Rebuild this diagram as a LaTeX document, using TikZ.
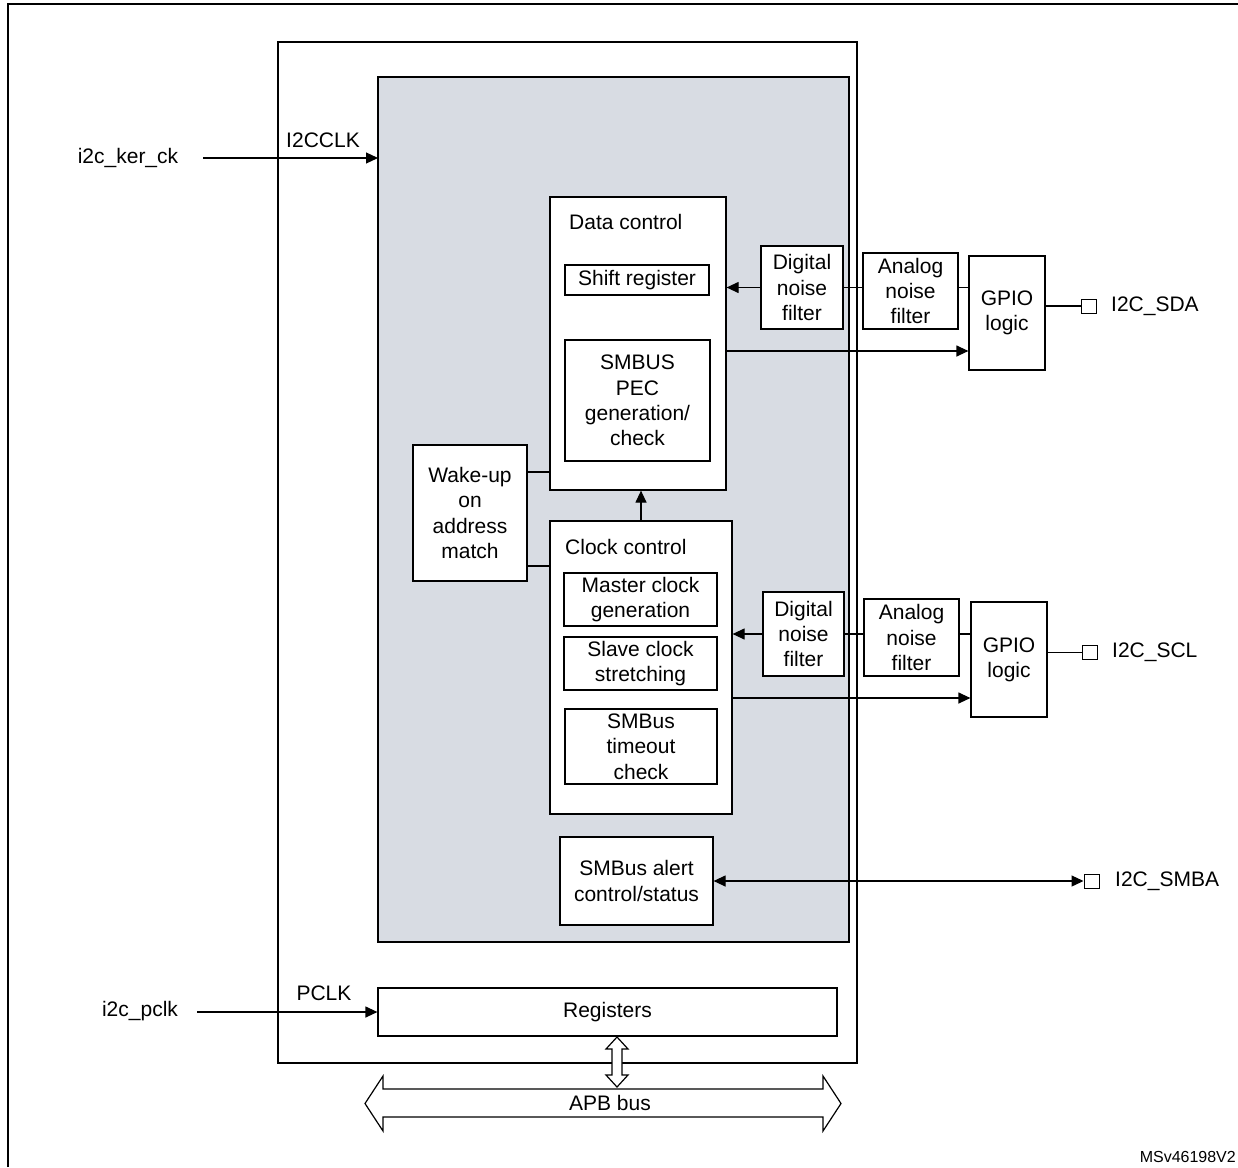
\documentclass[tikz,border=0pt]{standalone}
\usepackage{fontspec}
\setmainfont{Liberation Sans}
\usetikzlibrary{arrows.meta}
\newcommand{\mainfs}{\fontsize{21}{25.3}\selectfont}
\definecolor{panelgray}{RGB}{216,220,227}
\begin{document}
\begin{tikzpicture}[x=1pt,y=-1pt,
  box/.style={draw=black, line width=1.2pt, fill=white, inner sep=0pt, align=center, font=\mainfs},
  lbl/.style={inner sep=0pt, font=\mainfs},
  wire/.style={draw=black, line width=1.2pt},
  arr/.style={wire, -{Triangle[length=12pt,width=11pt]}},
  darr/.style={wire, {Triangle[length=12pt,width=11pt]}-{Triangle[length=12pt,width=11pt]}},
  padbox/.style={draw=black, line width=1pt, fill=white, inner sep=0pt, minimum width=15pt, minimum height=14pt},
  hollow/.style={draw=black, line width=1.2pt, fill=white, line join=miter}
]
\useasboundingbox (0,0) rectangle (1238,1167);
% page frame
\draw[line width=2.3pt] (8,1167) -- (8,4) -- (1238,4);

% outer block and grey core
\draw[line width=2.8pt] (278,42) rectangle (857,1063);
\draw[line width=1.2pt, fill=panelgray] (378,77) rectangle (849,942);

% data control
\node[box, minimum width=176pt, minimum height=293pt] (dc) at (638,343.5) {};
\node[lbl, anchor=west] (dclbl) at (569,222) {Data control};
\node[box, minimum width=144pt, minimum height=30pt] (shift) at (637,280) {Shift register};
\node[box, minimum width=145pt, minimum height=121pt] (pec) at (637.5,400.5) {SMBUS\\PEC\\generation/\\check};

% clock control
\node[box, minimum width=182pt, minimum height=293pt] (cc) at (641,667.5) {};
\node[lbl, anchor=west] (cclbl) at (565,547) {Clock control};
\node[box, minimum width=153pt, minimum height=53pt] (master) at (640.5,599.5) {Master clock\\generation};
\node[box, minimum width=153pt, minimum height=53pt] (slave) at (640.5,663.5) {Slave clock\\stretching};
\node[box, minimum width=152pt, minimum height=75pt] (tout) at (641,746.5) {SMBus\\timeout\\check};

% wake-up
\node[box, minimum width=114pt, minimum height=136pt] (wake) at (470,513) {Wake-up\\on\\address\\match};

% SDA path
\node[box, minimum width=82pt, minimum height=83pt] (dnf1) at (802,287.5) {Digital\\noise\\filter};
\node[box, minimum width=95pt, minimum height=76pt] (anf1) at (910.5,291) {Analog\\noise\\filter};
\node[box, minimum width=76pt, minimum height=114pt] (gpio1) at (1007,313) {GPIO\\logic};
\node[padbox] (pad1) at (1088.5,306) {};
\node[lbl, anchor=west] (sda) at (1111,306) {I2C\_SDA};

% SCL path
\node[box, minimum width=81pt, minimum height=84pt] (dnf2) at (803.5,634) {Digital\\noise\\filter};
\node[box, minimum width=95pt, minimum height=77pt] (anf2) at (911.5,637.5) {Analog\\noise\\filter};
\node[box, minimum width=76pt, minimum height=115pt] (gpio2) at (1009,659.5) {GPIO\\logic};
\node[padbox] (pad2) at (1089.5,652.5) {};
\node[lbl, anchor=west] (scl) at (1112,652) {I2C\_SCL};

% SMBus alert
\node[box, minimum width=153pt, minimum height=88pt] (alert) at (636.5,881) {SMBus alert\\control/status};
\node[padbox] (pad3) at (1091.5,881) {};
\node[lbl, anchor=west] (smba) at (1115,881) {I2C\_SMBA};

% registers
\node[box, minimum width=459pt, minimum height=48pt] (regs) at (607.5,1012) {Registers};

% clock inputs
\node[lbl] (kerlab) at (128,158) {i2c\_ker\_ck};
\node[lbl] (i2cclk) at (323,140) {I2CCLK};
\coordinate (kerin) at (203,158);
\coordinate (coreL) at (378,158);
\draw[arr] (kerin) -- (coreL);

\node[lbl] (pclklab) at (140,1011) {i2c\_pclk};
\node[lbl] (pclk) at (324,993) {PCLK};
\coordinate (pclkin) at (197,1012);
\draw[arr] (pclkin) -- (regs.west);

% SDA connections
\draw[arr] (dnf1.west) -- (dc.east |- dnf1.west);
\draw[wire] (dnf1.east) -- (anf1.west |- dnf1.east);
\draw[wire] (anf1.east |- dnf1.east) -- (gpio1.west |- dnf1.east);
\draw[wire] (gpio1.east |- pad1.west) -- (pad1.west);
\coordinate (dcout) at (726,351);
\draw[arr] (dcout) -- (gpio1.west |- dcout);

% SCL connections
\draw[arr] (dnf2.west) -- (cc.east |- dnf2.west);
\draw[wire] (dnf2.east) -- (anf2.west |- dnf2.east);
\draw[wire] (anf2.east |- dnf2.east) -- (gpio2.west |- dnf2.east);
\draw[wire] (gpio2.east |- pad2.west) -- (pad2.west);
\coordinate (ccout) at (732,698);
\draw[arr] (ccout) -- (gpio2.west |- ccout);

% internal
\coordinate (wk1) at (527,472);
\coordinate (wk2) at (527,566);
\draw[wire] (wk1) -- (dc.west |- wk1);
\draw[wire] (wk2) -- (cc.west |- wk2);
\draw[arr] (cc.north) -- (dc.south -| cc.north);

% SMBA
\draw[darr] (alert.east) -- (pad3.west |- alert.east);

% APB bus hollow arrows
\draw[hollow] (617,1037) -- (628,1049) -- (622,1049) -- (622,1075) -- (628,1075) -- (617,1087)
  -- (606,1075) -- (612,1075) -- (612,1049) -- (606,1049) -- cycle;
\draw[hollow] (365,1103.5) -- (383,1076) -- (383,1089) -- (823,1089) -- (823,1076) -- (841,1103.5)
  -- (823,1131) -- (823,1117) -- (383,1117) -- (383,1131) -- cycle;
\node[lbl] (apb) at (610,1103) {APB bus};

\node[inner sep=0pt, anchor=east, font=\fontsize{16}{19}\selectfont] (msv) at (1236,1157) {MSv46198V2};
\end{tikzpicture}
\end{document}
